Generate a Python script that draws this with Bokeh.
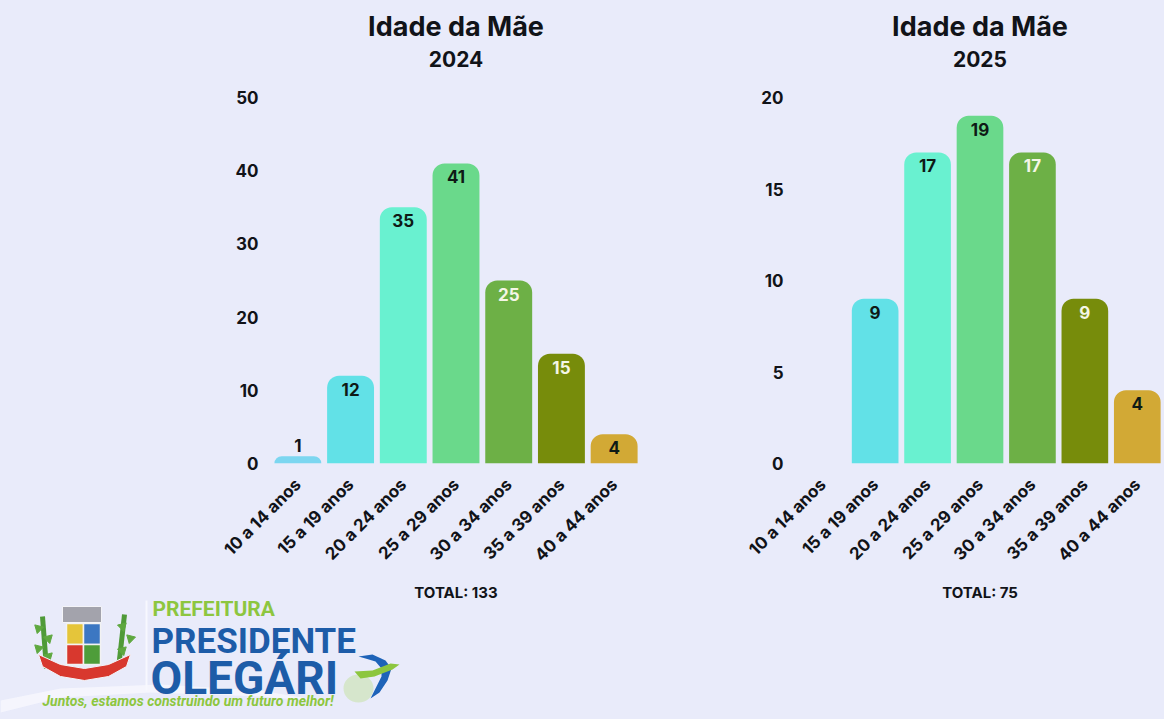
import math
from bokeh.plotting import figure
from bokeh.models import ColumnDataSource, FixedTicker, Range1d
from bokeh.layouts import row, column
from bokeh.embed import file_html
from bokeh.resources import INLINE
from bokeh.core.properties import value

# ---------------- data ----------------
categories = ["10 a 14 anos", "15 a 19 anos", "20 a 24 anos", "25 a 29 anos",
              "30 a 34 anos", "35 a 39 anos", "40 a 44 anos"]
values_2024 = [1, 12, 35, 41, 25, 15, 4]
values_2025 = [0, 9, 17, 19, 17, 9, 4]
ticks_2024 = [0, 10, 20, 30, 40, 50]
ticks_2025 = [0, 5, 10, 15, 20]
total_2024 = 133
total_2025 = 75
years = [2024, 2025]
bar_colors = ["#7CD6F0", "#62E1E7", "#69F1D0", "#6AD98B", "#6DB046", "#778C0B", "#D2A935"]
label_colors = ["#0E1A16", "#0E1A16", "#0E1A16", "#0E1A16", "#F4F6E6", "#F4F6E6", "#0E1A16"]

BG = "#E9EBFA"
FONT = "Inter"
DARK = "#111318"
W = 1164
TOP_H = 87          # title strip
CHART_H = 488       # chart row
LOGO_H = 719 - TOP_H - CHART_H

# layout geometry: (figure width, left border, right border)
LEFT_GEO = (700, 271, 60)
RIGHT_GEO = (464, 96, 1)


def strip(height, y_top):
    f = figure(width=W, height=height, x_range=Range1d(0, W),
               y_range=Range1d(y_top + height, y_top), toolbar_location=None,
               output_backend="svg", title=None, x_axis_location=None,
               y_axis_location=None, min_border=0)
    f.background_fill_color = BG
    f.border_fill_color = BG
    f.outline_line_color = None
    f.xgrid.grid_line_color = None
    f.ygrid.grid_line_color = None
    return f


def make_chart(vals, ticks, geo):
    width, border_left, border_right = geo
    ymax = ticks[-1]
    p = figure(x_range=categories, y_range=(0, ymax), width=width, height=CHART_H,
               title=None, toolbar_location=None, output_backend="svg",
               min_border_left=border_left, min_border_right=border_right,
               min_border_top=10, min_border_bottom=CHART_H - 10 - 366)
    p.background_fill_color = BG
    p.border_fill_color = BG
    p.outline_line_color = None
    p.xgrid.grid_line_color = None
    p.ygrid.grid_line_color = None

    src = ColumnDataSource(dict(cat=categories, val=vals, color=bar_colors))
    p.vbar(x="cat", top="val", width=0.89, color="color", line_color=None,
           border_radius=(12, 12, 0, 0), source=src)

    inside = [i for i, v in enumerate(vals) if v > 0 and v / ymax >= 0.05]
    above = [i for i, v in enumerate(vals) if v > 0 and v / ymax < 0.05]
    if inside:
        s_in = ColumnDataSource(dict(cat=[categories[i] for i in inside],
                                     val=[vals[i] for i in inside],
                                     txt=[str(vals[i]) for i in inside],
                                     col=[label_colors[i] for i in inside]))
        p.text(x="cat", y="val", text="txt", source=s_in, text_color="col",
               text_align="center", text_baseline="top", y_offset=7,
               text_font_size="17px", text_font_style="bold", text_font=value(FONT))
    if above:
        s_ab = ColumnDataSource(dict(cat=[categories[i] for i in above],
                                     val=[vals[i] for i in above],
                                     txt=[str(vals[i]) for i in above]))
        p.text(x="cat", y="val", text="txt", source=s_ab, text_color=DARK,
               text_align="center", text_baseline="bottom", y_offset=-4,
               text_font_size="17px", text_font_style="bold", text_font=value(FONT))

    ya = p.yaxis[0]
    ya.ticker = FixedTicker(ticks=ticks)
    ya.axis_line_color = None
    ya.major_tick_line_color = None
    ya.minor_tick_line_color = None
    ya.major_label_standoff = 7
    ya.major_label_text_font = FONT
    ya.major_label_text_font_style = "bold"
    ya.major_label_text_font_size = "17px"
    ya.major_label_text_color = DARK

    xa = p.xaxis[0]
    xa.axis_line_color = None
    xa.major_tick_line_color = None
    xa.minor_tick_line_color = None
    xa.major_label_orientation = math.pi / 4
    xa.major_label_standoff = 12
    xa.major_label_text_font = FONT
    xa.major_label_text_font_style = "bold"
    xa.major_label_text_font_size = "17px"
    xa.major_label_text_color = DARK
    return p


left = make_chart(values_2024, ticks_2024, LEFT_GEO)
right = make_chart(values_2025, ticks_2025, RIGHT_GEO)

# centres of the two plot frames (page pixels)
centres = [LEFT_GEO[1] + (LEFT_GEO[0] - LEFT_GEO[1] - LEFT_GEO[2]) / 2,
           LEFT_GEO[0] + RIGHT_GEO[1] + (RIGHT_GEO[0] - RIGHT_GEO[1] - RIGHT_GEO[2]) / 2]

# ---------------- title strip ----------------
top = strip(TOP_H, 0)
top.text(x=centres, y=[26, 26], text=["Idade da Mãe", "Idade da Mãe"],
         text_font=value(FONT), text_font_style="bold", text_font_size="27px",
         text_color=DARK, text_align="center", text_baseline="middle")
top.text(x=centres, y=[58, 58], text=[str(y) for y in years],
         text_font=value(FONT), text_font_style="bold", text_font_size="21px",
         text_color=DARK, text_align="center", text_baseline="middle")

# ---------------- bottom strip: totals + logo ----------------
y0 = TOP_H + CHART_H
logo = strip(LOGO_H, y0)
logo.text(x=centres, y=[592, 592], text=[f"TOTAL: {total_2024}", f"TOTAL: {total_2025}"],
          text_font=value(FONT), text_font_style="bold", text_font_size="15px",
          text_color=DARK, text_align="center", text_baseline="middle")

# soft white swoosh in the background
logo.patch(x=[0, 60, 160, 260, 330, 260, 150, 60, 0], y=[700, 688, 684, 690, 702, 696, 692, 697, 712],
           color="#F7F8FE", line_color=None, alpha=0.8)
# coat of arms (simplified)
logo.segment(x0=[46, 118], y0=[668, 668], x1=[42, 124], y1=[616, 614], line_color="#4F9A38", line_width=5)
logo.scatter(x=[38, 48, 38, 48, 122, 130, 122], y=[628, 638, 648, 656, 626, 638, 650], marker="triangle",
             size=9, angle=[0.8, -0.8, 0.8, -0.8, -0.8, 0.8, -0.8], color="#5EA83F")
logo.quad(left=[62], right=[101], top=[606], bottom=[622], color="#A3A3AC", line_color="#F4F4F8", line_width=1)
logo.quad(left=[66, 83, 66, 83], right=[83, 100, 83, 100], top=[623, 623, 644, 644],
          bottom=[644, 644, 664, 664],
          color=["#E5C53A", "#3C77C2", "#D8382E", "#4E9D3A"], line_color="#F2F2F2", line_width=1.5)
logo.patch(x=[38, 60, 84, 108, 130, 126, 108, 84, 60, 42],
           y=[654, 664, 668, 664, 654, 666, 676, 680, 676, 666],
           color="#D8382E", line_color="#F4F4F8", line_width=1)
# divider
logo.segment(x0=[146], y0=[600], x1=[146], y1=[690], line_color="#F7F8FE", line_width=2)

logo_texts = dict(
    txt=["PREFEITURA", "PRESIDENTE", "OLEGÁRI"],
    x=[152, 151, 150],
    y=[608, 641, 677],
    size=["21px", "35px", "46px"],
    col=["#8DC63F", "#1D5CA8", "#1D5CA8"],
)
logo.text(x="x", y="y", text="txt", text_font_size="size", text_color="col",
          source=ColumnDataSource(logo_texts), text_font=value("Roboto"),
          text_font_style="bold", text_baseline="middle", text_align="left")
logo.text(x=[42], y=[700], text=["Juntos, estamos construindo um futuro melhor!"],
          text_font=value("Roboto"), text_font_style="bold italic", text_font_size="14px",
          text_color="#8DC63F", text_baseline="middle", text_align="left")
# bird (simplified swallow over a light-green map)
logo.ellipse(x=[358], y=[688], width=30, height=28, color="#D6E6CC", line_color=None)
logo.patch(x=[358, 372, 385, 391, 387, 379, 370, 375, 381, 381, 375, 365],
           y=[656, 654, 660, 668, 680, 692, 698, 688, 676, 668, 661, 658],
           color="#1E63B8", line_color=None)
logo.patch(x=[354, 372, 390, 399, 392, 374, 360],
           y=[671, 670, 663, 664, 669, 676, 678],
           color="#8DC63F", line_color=None)

layout = column(top, row(left, right, spacing=0, styles={"background-color": BG}), logo,
                spacing=0, styles={"background-color": BG})
open("out.html", "w").write(file_html(layout, INLINE))
